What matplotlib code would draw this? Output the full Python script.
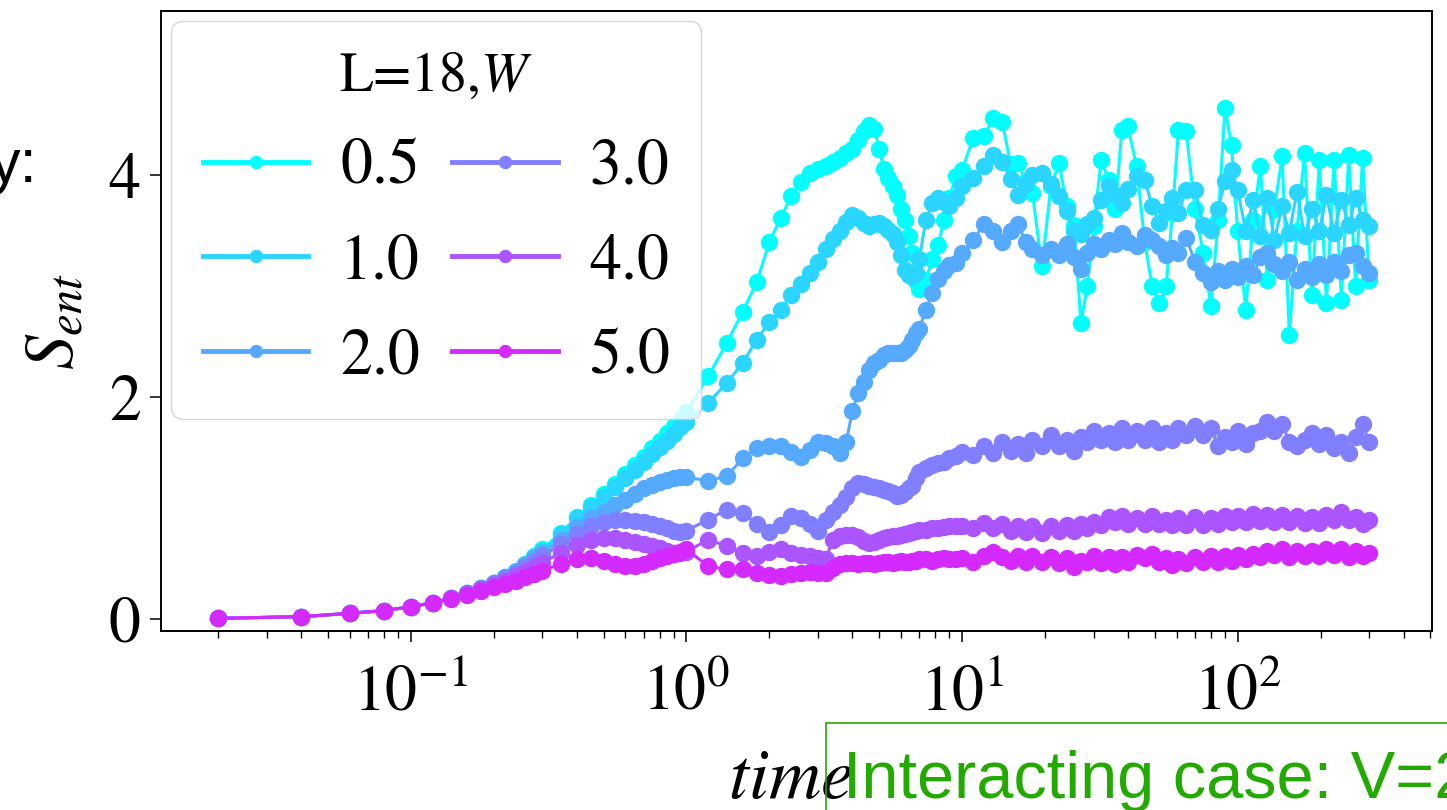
import numpy as np
import matplotlib
matplotlib.use("Agg")
import matplotlib.pyplot as plt
from matplotlib.patches import Rectangle

plt.rcParams['font.family'] = ['STIXGeneral', 'DejaVu Sans']
plt.rcParams['mathtext.fontset'] = 'stix'

# time grid (early linear, then dt=0.2, then coarser at late times)
t_early = [0.02, 0.04, 0.06, 0.08, 0.10, 0.12, 0.14, 0.16, 0.18, 0.20, 0.22, 0.24, 0.26, 0.28, 0.30,
           0.35, 0.40, 0.45, 0.50, 0.55, 0.60, 0.65, 0.70, 0.75, 0.80, 0.85, 0.90, 0.95, 1.00]
t_mid = [1.2, 1.4, 1.6, 1.8, 2.0, 2.2, 2.4, 2.6, 2.8, 3.0, 3.2, 3.4, 3.6, 3.8, 4.0, 4.2, 4.4, 4.6, 4.8, 5.0,
         5.2, 5.4, 5.6, 5.8, 6.0, 6.2, 6.4, 6.6, 6.8, 7.0, 7.4, 7.8, 8.2, 8.6, 9.0, 9.5, 10]
t_late = [11, 12, 13, 14, 15, 16, 17, 18, 19.5, 21, 22.5, 24, 25.5, 27, 28.5, 30, 32, 34, 36, 38, 40,
          43, 46, 49, 52, 55, 58, 61, 65, 70, 75, 80, 85, 90, 95, 100, 107, 114, 121, 128, 136, 145,
          154, 164, 175, 186, 198, 210, 224, 238, 253, 268, 284, 300]

W_values = [0.5, 1.0, 2.0, 3.0, 4.0, 5.0]

# S_ent for each disorder W
s05 = [0.01, 0.025, 0.055, 0.08, 0.115, 0.15, 0.19, 0.235, 0.28, 0.33, 0.38, 0.44, 0.50, 0.57, 0.63,
       0.78, 0.92, 1.03, 1.13, 1.22, 1.31, 1.39, 1.46, 1.54, 1.61, 1.68, 1.74, 1.80, 1.87,
       2.19, 2.49, 2.77, 3.04, 3.40, 3.62, 3.81, 3.94, 4.02, 4.06, 4.08, 4.12, 4.16, 4.20, 4.24, 4.32,
       4.40, 4.45, 4.42, 4.24, 4.06, 3.98, 3.90, 3.82, 3.70, 3.60, 3.45, 3.30, 3.05, 2.98, 3.06, 3.25,
       3.37, 3.60, 3.80, 3.99, 4.05,
       4.34, 4.35, 4.52, 4.48, 4.10, 4.11, 3.95, 3.84, 3.18, 3.90, 4.11, 3.72, 3.55, 2.67, 3.00, 3.54,
       4.14, 3.96, 3.70, 4.41, 4.44, 4.08, 3.40, 3.00, 2.85, 3.00, 3.66, 4.41, 4.40, 3.70, 3.30, 2.82,
       3.60, 4.61, 4.27, 3.50, 2.79, 3.60, 4.08, 3.06, 3.70, 4.17, 2.56, 3.50, 4.20, 2.92, 4.14, 2.85,
       4.14, 2.88, 4.18, 3.00, 4.16, 3.06]
s10 = [0.01, 0.025, 0.055, 0.08, 0.115, 0.15, 0.19, 0.235, 0.28, 0.33, 0.38, 0.44, 0.50, 0.56, 0.62,
       0.77, 0.91, 1.01, 1.10, 1.19, 1.27, 1.35, 1.42, 1.49, 1.55, 1.61, 1.67, 1.73, 1.78,
       1.95, 2.13, 2.31, 2.52, 2.68, 2.79, 2.92, 3.02, 3.12, 3.22, 3.34, 3.43, 3.50, 3.58, 3.64, 3.62,
       3.57, 3.54, 3.56, 3.57, 3.54, 3.51, 3.47, 3.40, 3.28, 3.15, 3.10, 3.09, 3.12, 3.25, 3.60, 3.75,
       3.80, 3.76, 3.72, 3.80, 3.90,
       3.98, 4.08, 4.18, 4.12, 3.97, 3.82, 3.92, 4.00, 4.02, 3.92, 3.81, 3.68, 3.50, 3.47, 3.56, 3.62,
       3.78, 3.90, 3.82, 3.75, 3.88, 3.99, 3.96, 3.72, 3.57, 3.68, 3.80, 3.66, 3.87, 3.87, 3.55, 3.51,
       3.70, 3.95, 4.05, 3.87, 3.50, 3.78, 3.45, 3.80, 3.42, 3.72, 3.48, 3.85, 3.45, 3.70, 3.50, 3.82,
       3.48, 3.78, 3.55, 3.80, 3.60, 3.54]
s20 = [0.01, 0.025, 0.055, 0.08, 0.115, 0.15, 0.19, 0.235, 0.28, 0.33, 0.38, 0.43, 0.49, 0.55, 0.60,
       0.72, 0.83, 0.91, 0.97, 1.03, 1.08, 1.13, 1.18, 1.21, 1.24, 1.26, 1.27, 1.28, 1.28,
       1.25, 1.29, 1.45, 1.54, 1.56, 1.56, 1.51, 1.46, 1.53, 1.60, 1.59, 1.56, 1.50, 1.60, 1.88, 2.04,
       2.14, 2.25, 2.31, 2.34, 2.38, 2.40, 2.40, 2.40, 2.40, 2.43, 2.46, 2.52, 2.58, 2.62, 2.79, 2.94,
       3.07, 3.14, 3.19, 3.21, 3.30,
       3.42, 3.56, 3.50, 3.40, 3.50, 3.56, 3.40, 3.34, 3.28, 3.34, 3.28, 3.38, 3.26, 3.16, 3.30, 3.38,
       3.34, 3.42, 3.38, 3.48, 3.40, 3.36, 3.46, 3.42, 3.36, 3.28, 3.35, 3.30, 3.44, 3.22, 3.12, 3.04,
       3.14, 3.06, 3.16, 3.08, 3.18, 3.10, 3.26, 3.30, 3.20, 3.14, 3.22, 3.06, 3.16, 3.08, 3.20, 3.10,
       3.22, 3.14, 3.28, 3.30, 3.18, 3.12]
s30 = [0.01, 0.025, 0.055, 0.08, 0.115, 0.15, 0.19, 0.235, 0.28, 0.33, 0.37, 0.42, 0.47, 0.52, 0.57,
       0.68, 0.77, 0.84, 0.88, 0.90, 0.90, 0.89, 0.88, 0.86, 0.84, 0.82, 0.80, 0.79, 0.80,
       0.90, 0.99, 0.96, 0.86, 0.79, 0.85, 0.93, 0.91, 0.86, 0.80, 0.90, 0.97, 1.03, 1.10, 1.18, 1.23,
       1.22, 1.20, 1.19, 1.18, 1.17, 1.16, 1.14, 1.11, 1.12, 1.15, 1.18, 1.20, 1.27, 1.33, 1.36, 1.39,
       1.41, 1.42, 1.45, 1.47, 1.51,
       1.48, 1.56, 1.50, 1.60, 1.52, 1.58, 1.50, 1.62, 1.56, 1.66, 1.56, 1.62, 1.52, 1.64, 1.60, 1.70,
       1.62, 1.68, 1.60, 1.72, 1.62, 1.70, 1.62, 1.72, 1.60, 1.68, 1.62, 1.72, 1.66, 1.74, 1.66, 1.72,
       1.56, 1.64, 1.60, 1.70, 1.58, 1.68, 1.70, 1.78, 1.70, 1.76, 1.60, 1.56, 1.62, 1.68, 1.58, 1.66,
       1.54, 1.60, 1.50, 1.64, 1.76, 1.60]
s40 = [0.01, 0.025, 0.055, 0.08, 0.115, 0.15, 0.19, 0.23, 0.27, 0.31, 0.35, 0.39, 0.43, 0.47, 0.51,
       0.60, 0.67, 0.72, 0.73, 0.73, 0.72, 0.70, 0.68, 0.66, 0.64, 0.62, 0.60, 0.60, 0.61,
       0.72, 0.66, 0.60, 0.57, 0.61, 0.63, 0.60, 0.58, 0.57, 0.55, 0.54, 0.72, 0.75, 0.76, 0.76, 0.74,
       0.71, 0.69, 0.70, 0.72, 0.73, 0.74, 0.75, 0.75, 0.76, 0.77, 0.78, 0.79, 0.80, 0.81, 0.81, 0.82,
       0.82, 0.83, 0.84, 0.84, 0.84,
       0.82, 0.87, 0.82, 0.86, 0.80, 0.84, 0.79, 0.84, 0.78, 0.84, 0.80, 0.85, 0.80, 0.86, 0.82, 0.88,
       0.85, 0.92, 0.88, 0.93, 0.86, 0.91, 0.86, 0.93, 0.86, 0.90, 0.85, 0.91, 0.85, 0.92, 0.85, 0.91,
       0.86, 0.93, 0.88, 0.93, 0.88, 0.95, 0.89, 0.94, 0.88, 0.94, 0.88, 0.93, 0.87, 0.92, 0.87, 0.94,
       0.90, 0.97, 0.90, 0.92, 0.86, 0.90]
s50 = [0.01, 0.025, 0.055, 0.08, 0.115, 0.15, 0.185, 0.22, 0.26, 0.29, 0.32, 0.35, 0.38, 0.41, 0.44,
       0.50, 0.54, 0.55, 0.53, 0.50, 0.48, 0.48, 0.50, 0.53, 0.55, 0.57, 0.59, 0.61, 0.63,
       0.48, 0.45, 0.45, 0.42, 0.40, 0.39, 0.41, 0.42, 0.43, 0.42, 0.42, 0.46, 0.50, 0.51, 0.51, 0.50,
       0.51, 0.51, 0.50, 0.51, 0.52, 0.52, 0.51, 0.52, 0.53, 0.52, 0.52, 0.53, 0.53, 0.54, 0.54, 0.53,
       0.54, 0.55, 0.54, 0.54, 0.55,
       0.52, 0.57, 0.61, 0.56, 0.53, 0.57, 0.52, 0.57, 0.52, 0.56, 0.51, 0.55, 0.47, 0.53, 0.52, 0.57,
       0.51, 0.56, 0.50, 0.56, 0.52, 0.58, 0.55, 0.59, 0.52, 0.55, 0.49, 0.54, 0.51, 0.56, 0.52, 0.57,
       0.52, 0.57, 0.53, 0.58, 0.54, 0.59, 0.56, 0.62, 0.58, 0.63, 0.56, 0.62, 0.57, 0.62, 0.57, 0.63,
       0.58, 0.63, 0.56, 0.62, 0.57, 0.60]

times = np.array(t_early + t_mid + t_late)
series = [s05, s10, s20, s30, s40, s50]
colors = plt.cm.cool(np.arange(6) / 6.0)

fig = plt.figure(figsize=(14.47, 8.10), dpi=100)
ax = fig.add_axes([0.1116, 0.2210, 0.8778, 0.7654])

for W, S, c in zip(W_values, series, colors):
    ax.plot(times, S, '-o', color=c, lw=2.2, ms=11.5, label=f'{W:.1f}')

ax.set_xscale('log')
ax.set_xlim(10 ** -1.905, 10 ** 2.704)
ax.set_ylim(-0.104, 5.48)
ax.set_yticks([0, 2, 4])

ax.tick_params(which='major', direction='out', length=8, width=1.1, labelsize=46, pad=7)
ax.tick_params(which='minor', direction='out', length=5, width=1.0)
ax.tick_params(axis='x', which='major', pad=16)
for sp in ax.spines.values():
    sp.set_linewidth(1.4)

ax.set_xlabel('$time$', fontsize=52)
ax.set_ylabel('$S_{ent}$', fontsize=50)
ax.xaxis.set_label_coords(0.495, -0.19)
ax.yaxis.set_label_coords(-0.058, 0.5)

leg = ax.legend(ncol=2, title='L=18,$W$', loc='upper left', fontsize=46, title_fontsize=40,
                handlelength=1.65, handletextpad=0.5, columnspacing=0.5, labelspacing=0.56,
                borderpad=0.5, borderaxespad=0.15, markerscale=0.75, framealpha=0.8)
for hl in leg.get_lines():
    hl.set_linewidth(3.5)

# bits of the surrounding slide
fig.text(38 / 1447, 1 - 182 / 810, 'y:', ha='right', va='baseline', fontsize=44,
         family='Liberation Sans', color='black')
green = '#22aa00'
fig.patches.append(Rectangle((826 / 1447, -0.1), 0.5, 0.1 + 1 - 723 / 810, fill=False,
                             edgecolor=green, lw=1.2, transform=fig.transFigure))
fig.text(843 / 1447, 1 - 798 / 810, 'Interacting case: V=2', ha='left', va='baseline',
         fontsize=48, family='Liberation Sans', color=green)

fig.savefig('out.png', dpi=100)
